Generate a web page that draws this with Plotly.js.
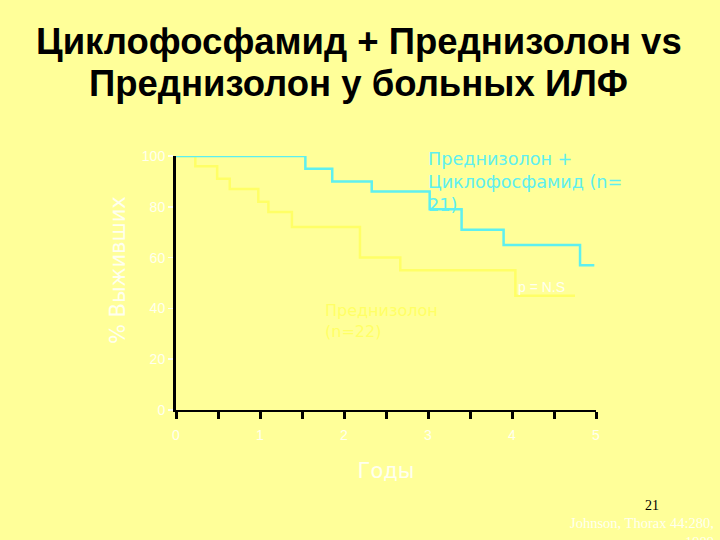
<!DOCTYPE html>
<html>
<head>
<meta charset="utf-8">
<script src="https://cdn.plot.ly/plotly-3.0.1.min.js"></script>
<style>
  html, body { margin: 0; padding: 0; background: #FFFF99; }
  #chart { width: 720px; height: 540px; }
</style>
</head>
<body>
<div id="chart"></div>
<script>
// Kaplan-Meier steps (years, % surviving)
var comboYears = [0, 1.54, 1.86, 2.33, 3.02, 3.40, 3.90, 4.81, 4.98];
var comboSurv  = [100, 95, 90, 86, 79, 71, 65, 57, 57];

var predYears = [0, 0.23, 0.49, 0.64, 0.98, 1.10, 1.38, 2.19, 2.67, 4.04, 4.75];
var predSurv  = [100, 96, 91, 87, 82, 78, 72, 60, 55, 45, 45];

var xTicks = [0, 0.5, 1, 1.5, 2, 2.5, 3, 3.5, 4, 4.5, 5];
var xLabels = ["0", "", "1", "", "2", "", "3", "", "4", "", "5"];
var yTicks = [0, 20, 40, 60, 80, 100];

var bg = "#FFFF99";
var pale = "#FFFFF0";
var cyan = "#5EF0F0";
var yel = "#FFFF66";
var wide = "DejaVu Sans, Verdana, sans-serif";

var combo = {
  x: comboYears, y: comboSurv,
  type: "scatter", mode: "lines",
  line: { shape: "hv", color: cyan, width: 2.5 },
  showlegend: false, hoverinfo: "skip"
};

var pred = {
  x: predYears, y: predSurv,
  type: "scatter", mode: "lines",
  line: { shape: "hv", color: yel, width: 2.5 },
  showlegend: false, hoverinfo: "skip"
};

var layout = {
  width: 720,
  height: 540,
  paper_bgcolor: bg,
  plot_bgcolor: bg,
  margin: { l: 176, r: 124, t: 156, b: 130 },
  font: { family: "Liberation Sans, Arial, sans-serif", color: pale },
  xaxis: {
    range: [0, 5],
    tickmode: "array",
    tickvals: xTicks,
    ticktext: xLabels,
    ticks: "outside", ticklen: 7, tickwidth: 3, tickcolor: "#000000",
    ticklabelstandoff: 4,
    showline: true, linecolor: "#000000", linewidth: 2,
    showgrid: false, zeroline: false,
    tickfont: { size: 14, color: pale },
    title: { text: "Годы", font: { family: wide, size: 21, color: pale }, standoff: 22 }
  },
  yaxis: {
    range: [0, 100],
    tickmode: "array",
    tickvals: yTicks,
    ticks: "outside", ticklen: 5, tickwidth: 1.5, tickcolor: pale,
    showline: true, linecolor: "#000000", linewidth: 3,
    showgrid: false, zeroline: false,
    tickfont: { size: 14, color: pale }
  },
  annotations: [
    {
      text: "<b>Циклофосфамид + Преднизолон vs</b>",
      xref: "paper", yref: "paper", x: 0.435, y: 1.449,
      xanchor: "center", yanchor: "middle", showarrow: false,
      font: { size: 36.5, color: "#000000" }
    },
    {
      text: "<b>Преднизолон у больных ИЛФ</b>",
      xref: "paper", yref: "paper", x: 0.435, y: 1.287,
      xanchor: "center", yanchor: "middle", showarrow: false,
      font: { size: 36.5, color: "#000000" }
    },
    {
      text: "% Выживших",
      xref: "paper", yref: "paper", x: -0.138, y: 0.551,
      xanchor: "center", yanchor: "middle", textangle: -90, showarrow: false,
      font: { family: wide, size: 21, color: pale }
    },
    {
      text: "Преднизолон +<br>Циклофосфамид (n=<br>21)",
      xref: "x", yref: "paper", x: 2.98, y: 1.035,
      xanchor: "left", yanchor: "top", align: "left", showarrow: false,
      font: { family: wide, size: 17.6, color: cyan }
    },
    {
      text: "Преднизолон<br>(n=22)",
      xref: "x", yref: "y", x: 1.75, y: 35,
      xanchor: "left", yanchor: "middle", align: "left", showarrow: false,
      font: { family: wide, size: 16, color: yel }
    },
    {
      text: "p = N.S",
      xref: "x", yref: "y", x: 4.05, y: 48.5,
      xanchor: "left", yanchor: "middle", showarrow: false,
      font: { size: 14, color: pale }
    },
    {
      text: "21",
      xref: "paper", yref: "paper", x: 1.133, y: -0.375,
      xanchor: "center", yanchor: "middle", showarrow: false,
      font: { family: "Liberation Serif, serif", size: 14, color: "#000000" }
    },
    {
      text: "Johnson, Thorax 44:280,<br>1989",
      xref: "paper", yref: "paper", x: 1.285, y: -0.405,
      xanchor: "right", yanchor: "top", align: "right", showarrow: false,
      font: { family: "Liberation Serif, serif", size: 14.5, color: pale }
    }
  ]
};

Plotly.newPlot("chart", [pred, combo], layout, { displayModeBar: false, staticPlot: true });
</script>
</body>
</html>
